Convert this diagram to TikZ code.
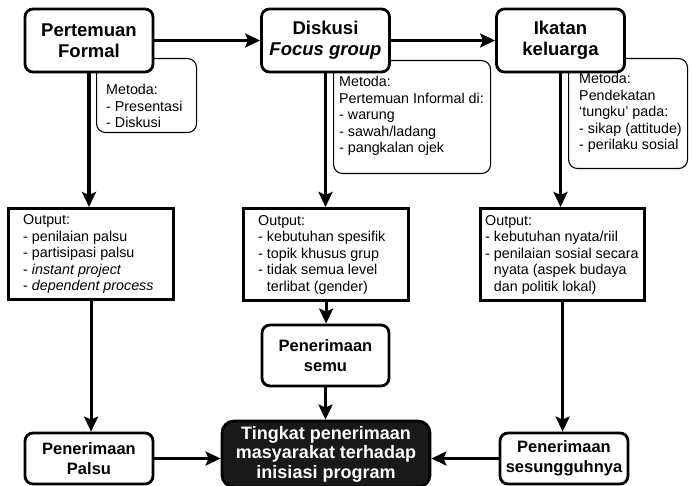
\documentclass[tikz,border=0pt]{standalone}
\usepackage{fontspec}
\setmainfont{Liberation Sans}
\usetikzlibrary{arrows.meta}
\begin{document}
\begin{tikzpicture}[x=1pt,y=-1pt,
  mainbox/.style={draw, line width=2.8pt, rounded corners=8pt, fill=white, minimum width=128pt, minimum height=63pt, align=center, font=\fontsize{18.5}{21}\selectfont\bfseries, inner sep=0pt},
  botbox/.style={mainbox, font=\fontsize{16.5}{19.5}\selectfont\bfseries},
  metbox/.style={draw, line width=1.1pt, rounded corners=9pt, fill=white, inner sep=0pt, anchor=north west},
  outbox/.style={draw, line width=3.2pt, fill=white, inner sep=0pt, anchor=north west},
  smalltext/.style={align=left, inner sep=0pt, font=\fontsize{14.3}{16.5}\selectfont},
  conn/.style={line width=3.2pt, -{Stealth[length=15pt,width=14pt,inset=3pt]}}
]
\useasboundingbox (0,0) rectangle (692,486);

% Metoda boxes (behind main boxes)
\node[metbox, minimum width=100pt, minimum height=74pt] (m1) at (96,58) {};
\node[metbox, minimum width=157pt, minimum height=113pt] (m2) at (333,60) {};
\node[metbox, minimum width=119pt, minimum height=110pt] (m3) at (568,58) {};

\node[smalltext, anchor=north west] (m1t) at (106,84) {Metoda:\\- Presentasi\\- Diskusi};
\node[smalltext, anchor=north west] (m2t) at (339,76) {Metoda:\\Pertemuan Informal di:\\- warung\\- sawah/ladang\\- pangkalan ojek};
\node[smalltext, anchor=north west] (m3t) at (579,73) {Metoda:\\Pendekatan\\‘tungku’ pada:\\- sikap (attitude)\\- perilaku sosial};

% Top boxes
\node[mainbox] (pf) at (89,40.5) {Pertemuan\\Formal};
\node[mainbox] (dg) at (325.5,40.5) {Diskusi\\\itshape Focus group};
\node[mainbox] (ik) at (560.5,40.5) {Ikatan\\keluarga};

% Output boxes
\node[outbox, minimum width=165pt, minimum height=91pt] (o1) at (7,207) {};
\node[outbox, minimum width=165pt, minimum height=92pt] (o2) at (242,207) {};
\node[outbox, minimum width=164pt, minimum height=92pt] (o3) at (479,207) {};

\node[smalltext, anchor=west] (o1t) at ([xshift=16pt]o1.west) {Output:\\- penilaian palsu\\- partisipasi palsu\\- \textit{instant project}\\- \textit{dependent process}};
\node[smalltext, anchor=west] (o2t) at ([xshift=16pt]o2.west) {Output:\\- kebutuhan spesifik\\- topik khusus grup\\- tidak semua level\\\phantom{- }terlibat (gender)};
\node[smalltext, anchor=west] (o3t) at ([xshift=6pt]o3.west) {Output:\\- kebutuhan nyata/riil\\- penilaian sosial secara\\\phantom{- }nyata (aspek budaya\\\phantom{- }dan politik lokal)};

% Bottom boxes
\node[botbox, minimum width=127pt, minimum height=61pt] (semu) at (325.5,355.5) {Penerimaan\\semu};
\node[botbox, minimum width=128pt, minimum height=51pt] (palsu) at (89,458.5) {Penerimaan\\Palsu};
\node[botbox, minimum width=128pt, minimum height=51pt] (sg) at (564,458.5) {Penerimaan\\sesungguhnya};
\node[mainbox, fill=black!90, text=white, rounded corners=12pt, minimum width=208pt, minimum height=66pt, font=\fontsize{18}{19.5}\selectfont\bfseries] (tp) at (326,454) {Tingkat penerimaan\\masyarakat terhadap\\inisiasi program};

% Connectors
\draw[conn] (pf.east) -- (dg.west);
\draw[conn] (dg.east) -- (ik.west);
\draw[conn] (pf.south) -- (pf.south |- o1.north);
\draw[conn] (dg.south) -- (dg.south |- o2.north);
\draw[conn] (ik.south) -- (ik.south |- o3.north);
\draw[conn] (o1.south) -- (o1.south |- palsu.north);
\draw[conn] (o2.south) -- (o2.south |- semu.north);
\draw[conn] (o3.south) -- (o3.south |- sg.north);
\draw[conn] (semu.south) -- (semu.south |- tp.north);
\draw[conn] (palsu.east) -- (palsu.east -| tp.west);
\draw[conn] (sg.west) -- (sg.west -| tp.east);
\end{tikzpicture}
\end{document}
